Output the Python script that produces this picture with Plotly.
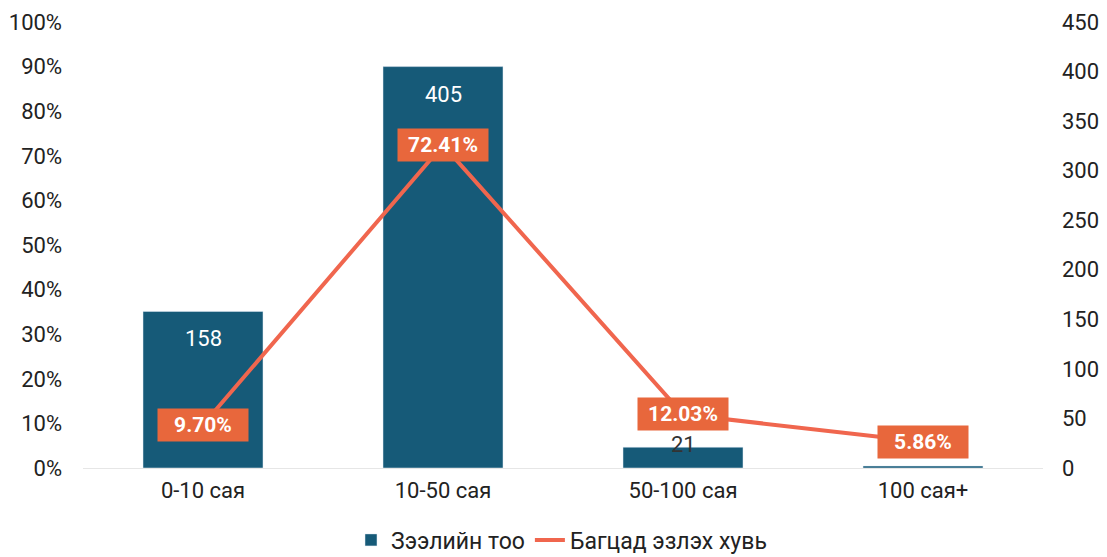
import plotly.graph_objects as go

categories = ["0-10 сая", "10-50 сая", "50-100 сая", "100 сая+"]
loan_counts = [158, 405, 21, 2]
share_pct = [9.70, 72.41, 12.03, 5.86]
bar_text = ["158", "405", "21", ""]
bar_text_colors = ["white", "white", "#333333", "white"]

BAR = "#165a78"
LINE = "#f0664e"
LBL = "#e8673c"

fig = go.Figure()
fig.add_trace(go.Bar(
    x=categories, y=loan_counts, name="Зээлийн тоо", yaxis="y",
    marker_color=BAR, width=0.5,
))
fig.add_trace(go.Scatter(
    x=categories, y=share_pct, name="Багцад эзлэх хувь", yaxis="y2",
    mode="lines", line=dict(color=LINE, width=4),
))
# bar value labels (inside top for tall bars, straddling the top for short ones)
for c, v, t, col in zip(categories, loan_counts, bar_text, bar_text_colors):
    if not t:
        continue
    tall = v > 50
    fig.add_annotation(x=c, y=v, xref="x", yref="y", text=t, showarrow=False,
                       yanchor="top" if tall else "middle",
                       yshift=-13 if tall else 3,
                       font=dict(color=col, size=22, family="Roboto"))
# line value labels
for c, v in zip(categories, share_pct):
    fig.add_annotation(x=c, y=v, xref="x", yref="y2", text=f"<b>{v:.2f}%</b>",
                       showarrow=False, bgcolor=LBL, borderpad=1,
                       width=88, height=30,
                       font=dict(color="white", size=21, family="Roboto"))

fig.update_layout(
    width=1107, height=557,
    margin=dict(l=75, r=72, t=14, b=97),
    plot_bgcolor="white", paper_bgcolor="white",
    font=dict(family="Roboto", size=22, color="#222222"),
    bargap=0.5,
    showlegend=True,
    legend=dict(orientation="h", x=0.5, xanchor="center", xref="container",
                y=0.045, yanchor="middle", yref="container",
                font=dict(size=23), traceorder="normal"),
    xaxis=dict(showgrid=False, showline=True, linecolor="#e6e6e6", ticks="",
               ticklabelstandoff=3, tickfont=dict(size=22), automargin=False),
    yaxis=dict(range=[0, 450], dtick=50, side="right", automargin=False,
               showgrid=False, zeroline=False, ticklabelstandoff=18),
    yaxis2=dict(range=[0, 100], dtick=10, ticksuffix="%", overlaying="y",
                automargin=False,
                side="left", showgrid=False, zeroline=False, ticklabelstandoff=20),
)
fig.write_html("out.html")
